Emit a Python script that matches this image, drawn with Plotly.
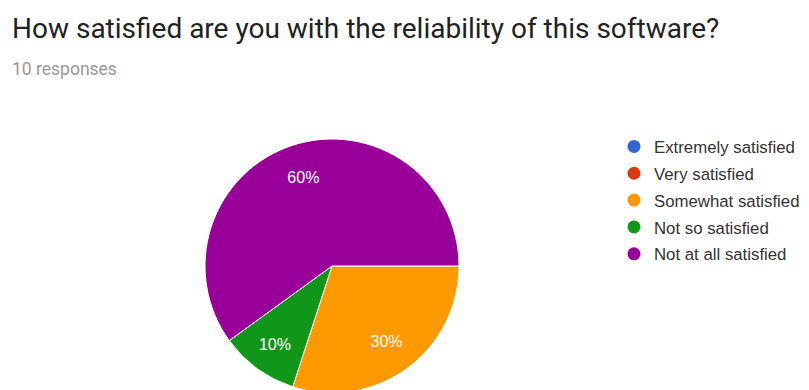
import plotly.graph_objects as go

labels = ["Extremely satisfied", "Very satisfied", "Somewhat satisfied", "Not so satisfied", "Not at all satisfied"]
values = [0, 0, 3, 1, 6]
colors = ["#3366CC", "#DC3912", "#FF9900", "#109618", "#990099"]
title_text = "How satisfied are you with the reliability of this software?"
subtitle_text = "10 responses"

W, H = 809, 390
OX, OY = 8, 7  # page body offset
cx, cy, r = 332 - OX, 265 - OY, 127
dom = dict(x=[(cx - r) / W, (cx + r) / W], y=[(H - cy - r) / H, (H - cy + r) / H])

fig = go.Figure()
# filled pie
fig.add_trace(go.Pie(
    labels=labels, values=values, sort=False, direction="clockwise", rotation=90,
    marker=dict(colors=colors, line=dict(color="white", width=1)),
    textinfo="none", showlegend=False, hoverinfo="label+percent", domain=dom,
))
# percentage labels (ring layer so labels sit further out, as in the reference)
fig.add_trace(go.Pie(
    labels=labels, values=values, sort=False, direction="clockwise", rotation=90,
    hole=0.46,
    marker=dict(colors=["rgba(0,0,0,0)"] * len(labels), line=dict(width=0)),
    textinfo="percent", textposition="inside", insidetextorientation="horizontal",
    textfont=dict(family="Liberation Sans, Arial", size=16, color="white"),
    showlegend=False, hoverinfo="skip", domain=dom,
))
for lab, col in zip(labels, colors):
    fig.add_trace(go.Scatter(x=[None], y=[None], mode="markers", name=lab, legendgroup=lab,
                             marker=dict(color=col, size=13, symbol="circle")))

fig.add_annotation(text=title_text, xref="paper", yref="paper", x=2 / W, y=1 - 20 / H,
                   xanchor="left", yanchor="middle", showarrow=False,
                   font=dict(family="Roboto", size=28, color="#222222"))
fig.add_annotation(text=subtitle_text, xref="paper", yref="paper", x=2 / W, y=1 - 61 / H,
                   xanchor="left", yanchor="middle", showarrow=False,
                   font=dict(family="Roboto", size=17.5, color="#999999"))

fig.update_layout(
    width=W, height=H, margin=dict(l=0, r=0, t=0, b=0),
    paper_bgcolor="white", plot_bgcolor="white",
    xaxis=dict(visible=False), yaxis=dict(visible=False),
    legend=dict(x=606 / W, y=1 - 121 / H, xanchor="left", yanchor="top",
                font=dict(family="Liberation Sans, Arial", size=16.8, color="#333333"),
                bgcolor="rgba(0,0,0,0)", traceorder="grouped", tracegroupgap=2, borderwidth=0),
)
fig.write_html("out.html")
